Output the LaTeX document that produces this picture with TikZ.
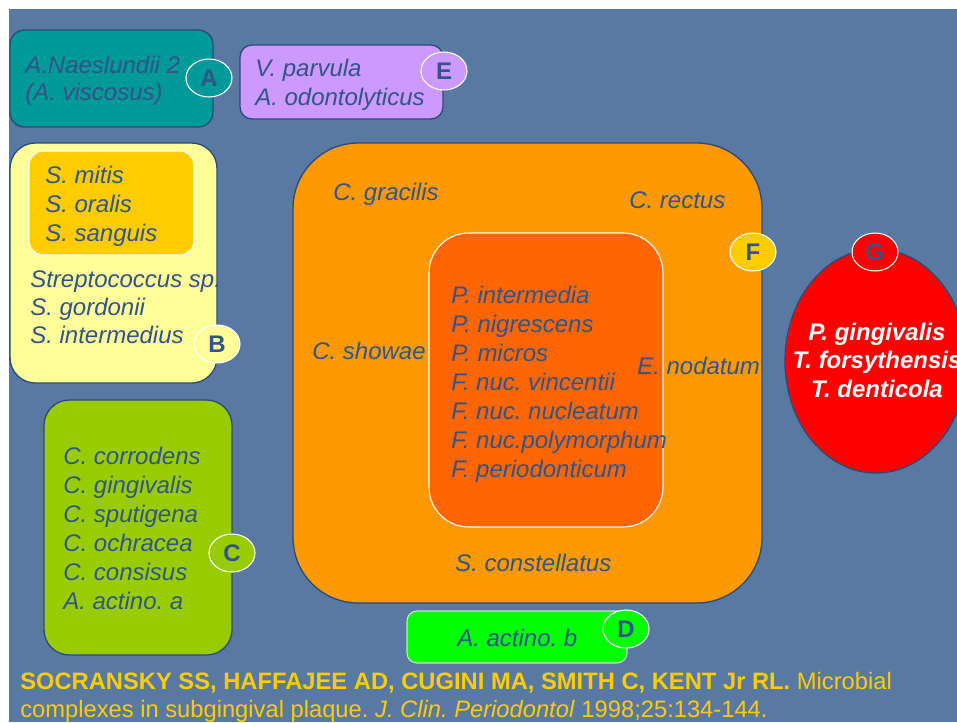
\documentclass[tikz,border=0pt]{standalone}
\usepackage{fontspec}
\setmainfont{Liberation Sans}
\usetikzlibrary{shapes.geometric}
\frenchspacing
\definecolor{Slide}{RGB}{88,122,162}
\definecolor{Ink}{RGB}{50,84,134}
\definecolor{Rim}{RGB}{44,74,120}
\definecolor{Teal}{RGB}{0,153,153}
\definecolor{Lilac}{RGB}{204,153,255}
\definecolor{Cream}{RGB}{255,255,153}
\definecolor{Gold}{RGB}{255,204,0}
\definecolor{Lime}{RGB}{153,204,0}
\definecolor{Amber}{RGB}{255,153,0}
\definecolor{Rust}{RGB}{255,102,0}
\definecolor{Leaf}{RGB}{0,255,0}
\definecolor{Scarlet}{RGB}{255,0,0}
\tikzset{
    species/.style={anchor=base west, inner sep=0pt, text=Ink,
        font=\fontsize{18}{21}\selectfont\itshape},
    badge/.style={ellipse, draw=white, line width=0.8pt, inner sep=0pt,
        minimum width=34.5pt, minimum height=28.5pt, text=Ink,
        font=\fontsize{18}{21}\selectfont\bfseries},
    cite/.style={anchor=base west, inner sep=0pt, text=Gold,
        font=\fontsize{17.8}{21}\selectfont},
}
\begin{document}
\begin{tikzpicture}[x=0.75pt,y=-0.75pt]

    \useasboundingbox (0,0) rectangle (957,722);

    % slide background
    \fill[white] (0,0) rectangle (957,722);
    \fill[Slide] (9,9) rectangle (957,722);

    % complex A
        \filldraw[draw=Rim, line width=1pt, fill=Teal, rounded corners=11pt]
            (10,30) rectangle (213,127);
    \node[species] (naes) at (25,73) {A.Naeslundii 2};
    \node[species] (visc) at (25,100) {(A. viscosus)};
    \node[badge, fill=Teal] (badgeA) at (209,78) {A};

    % complex E
        \filldraw[draw=Rim, line width=1pt, fill=Lilac, rounded corners=9pt]
            (240,45) rectangle (443,119);
    \node[species] (parv) at (255,76) {V. parvula};
    \node[species] (odon) at (255,105) {A. odontolyticus};
    \node[badge, fill=Lilac] (badgeE) at (444,71) {E};

    % complex B (yellow)
        \filldraw[draw=Rim, line width=1pt, fill=Cream, rounded corners=19pt]
            (10,143) rectangle (217,383);
        \filldraw[draw=white, line width=0.8pt, fill=Gold, rounded corners=11pt]
            (29,151) rectangle (194,255);
    \foreach \name [count=\i] in {S. mitis, S. oralis, S. sanguis}
        \node[species] (strA\i) at ({45},{183+29*(\i-1)}) {\name};
    \foreach \name [count=\i] in {Streptococcus sp., S. gordonii, S. intermedius}
        \node[species] (strB\i) at ({30},{287+28*(\i-1)}) {\name};
    \node[badge, fill=Cream] (badgeB) at (217,344) {B};

    % complex C (green)
        \filldraw[draw=Rim, line width=1pt, fill=Lime, rounded corners=19pt]
            (44,400) rectangle (232,655);
    \foreach \name [count=\i] in {C. corrodens, C. gingivalis, C. sputigena,
            C. ochracea, C. consisus, A. actino. a}
        \node[species] (cap\i) at ({63},{464+29*(\i-1)}) {\name};
    \node[badge, fill=Lime] (badgeC) at (232,553) {C};

    % complex F (orange) and its core
        \filldraw[draw=Rim, line width=1pt, fill=Amber, rounded corners=49pt]
            (293,143) rectangle (762,603);
        \filldraw[draw=white, line width=0.8pt, fill=Rust, rounded corners=30pt]
            (429,233) rectangle (663,527);
    \node[species] (grac) at (333,200) {C. gracilis};
    \node[species] (rect) at (629,208) {C. rectus};
    \node[species] (show) at (312,359) {C. showae};
    \node[species] (noda) at (637,374) {E. nodatum};
    \node[species] (cons) at (455,571) {S. constellatus};
    \foreach \name [count=\i] in {P. intermedia, P. nigrescens, P. micros,
            F. nuc. vincentii, F. nuc. nucleatum, F. nuc.polymorphum,
            F. periodonticum}
        \node[species] (core\i) at ({451},{303+29*(\i-1)}) {\name};
    \node[badge, fill=Gold] (badgeF) at (753,252) {F};

    % complex G (red)
    \node[ellipse, draw=Rim, line width=1pt, fill=Scarlet,
        minimum width=136.5pt, minimum height=168pt] (cplxG) at (876,361) {};
    \foreach \name [count=\i] in {P. gingivalis, T. forsythensis, T. denticola}
        \node[anchor=base, inner sep=0pt, text=white,
            font=\fontsize{18}{21}\selectfont\bfseries\itshape]
            (red\i) at ({877},{340+28.5*(\i-1)}) {\name};
    \node[badge, fill=Scarlet] (badgeG) at (875,252) {G};

    % complex D
        \filldraw[draw=white!85!black, line width=0.8pt, fill=Leaf, rounded corners=7.5pt]
            (407,611) rectangle (627,663);
    \node[species] (actb) at (457,646) {A. actino. b};
    \node[badge, fill=Leaf] (badgeD) at (626,629) {D};

    % reference
    \node[cite] (refA) at (20,689)
        {\textbf{SOCRANSKY SS, HAFFAJEE AD, CUGINI MA, SMITH C, KENT Jr RL.} Microbial};
    \node[cite] (refB) at (20,717)
        {complexes in subgingival plaque. \textit{J. Clin. Periodontol} 1998;25:134-144.};

\end{tikzpicture}
\end{document}
